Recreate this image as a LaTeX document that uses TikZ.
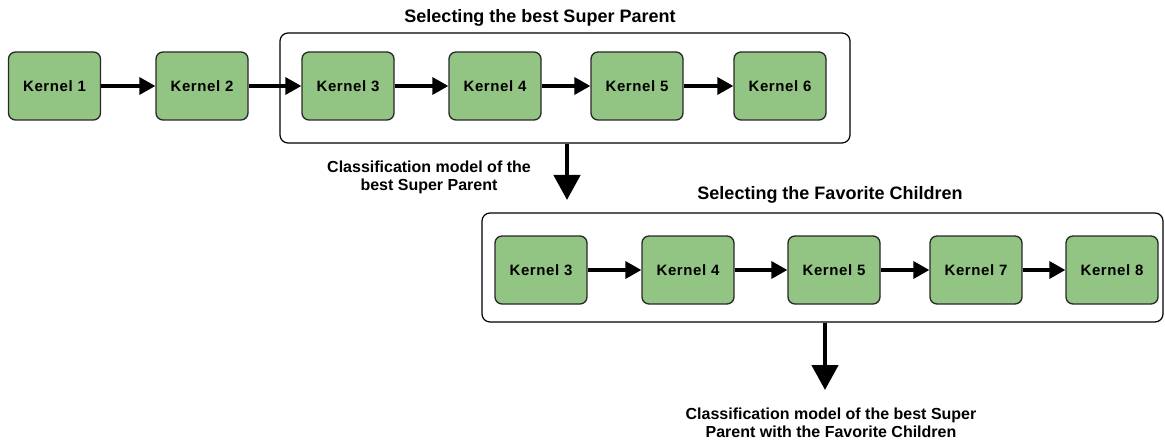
\documentclass[tikz,border=0pt]{standalone}
\usepackage{fontspec}
\setmainfont{Liberation Sans}
\usetikzlibrary{arrows.meta}
\definecolor{kgreen}{RGB}{146,196,132}
\definecolor{kborder}{RGB}{40,40,40}
\tikzset{
  kernel/.style={draw=kborder, line width=1.3pt, fill=kgreen, rounded corners=7pt,
    minimum width=92pt, minimum height=68pt, inner sep=0pt,
    font=\fontsize{15}{18}\selectfont\bfseries\addfontfeatures{LetterSpace=4}},
  stage/.style={draw=black, line width=1.2pt, rounded corners=8pt, fill=none},
  flow/.style={line width=3.4pt, -{Triangle[length=16pt,width=17pt]}},
  result/.style={line width=4.6pt, -{Triangle[length=25pt,width=26pt]}},
  heading/.style={font=\fontsize{18}{21}\selectfont\bfseries, inner sep=0pt},
  caption/.style={font=\fontsize{16}{18}\selectfont\bfseries, align=center, inner sep=0pt}
}
\begin{document}
\begin{tikzpicture}[x=1pt, y=-1pt]
\useasboundingbox (0,0) rectangle (1165,441);

% first stage: choosing the super parent
\node[stage, minimum width=570pt, minimum height=110pt] (box1) at (565,88) {};
\node[heading] (t1) at (540,18) {Selecting the best Super Parent};

\node[kernel] (k1) at (54.5,86) {Kernel 1};
\node[kernel] (k2) at (202,86) {Kernel 2};
\node[kernel] (k3) at (348,86) {Kernel 3};
\node[kernel] (k4) at (495,86) {Kernel 4};
\node[kernel] (k5) at (637,86) {Kernel 5};
\node[kernel] (k6) at (780,86) {Kernel 6};

\draw[flow] (k1) -- (k2);
\draw[flow] (k2) -- (k3);
\draw[flow] (k3) -- (k4);
\draw[flow] (k4) -- (k5);
\draw[flow] (k5) -- (k6);

\coordinate (d1) at (567,200);
\draw[result] (box1.south -| d1) -- (d1);
\node[caption] (c1) at (429,177) {Classification model of the\\best Super Parent};

% second stage: choosing the favorite children
\node[stage, minimum width=681pt, minimum height=109pt] (box2) at (822.5,267.5) {};
\node[heading] (t2) at (830,195) {Selecting the Favorite Children};

\node[kernel] (m3) at (541,270) {Kernel 3};
\node[kernel] (m4) at (688,270) {Kernel 4};
\node[kernel] (m5) at (834,270) {Kernel 5};
\node[kernel] (m7) at (976,270) {Kernel 7};
\node[kernel] (m8) at (1112,270) {Kernel 8};

\draw[flow] (m3) -- (m4);
\draw[flow] (m4) -- (m5);
\draw[flow] (m5) -- (m7);
\draw[flow] (m7) -- (m8);

\coordinate (d2) at (825,390);
\draw[result] (box2.south -| d2) -- (d2);
\node[caption] (c2) at (831,423) {Classification model of the best Super\\Parent with the Favorite Children};
\end{tikzpicture}
\end{document}
